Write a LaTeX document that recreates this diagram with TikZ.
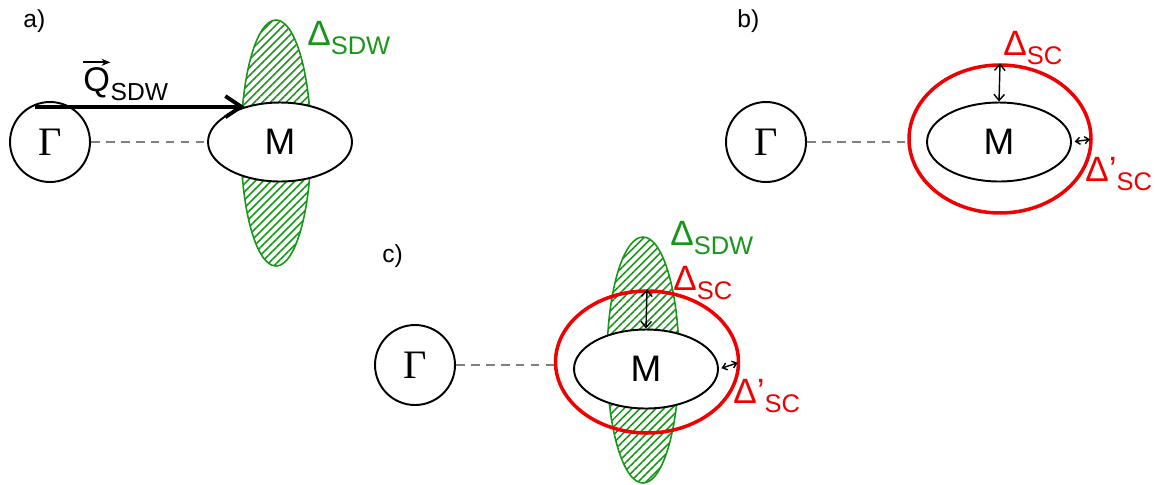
\documentclass[tikz,border=0pt]{standalone}
\usepackage{fontspec}
\setmainfont{Liberation Sans}
\newfontfamily\gammafont{Liberation Serif}
\usetikzlibrary{shapes.geometric,arrows.meta,patterns.meta}
\definecolor{sdwgreen}{RGB}{25,150,25}
\definecolor{scred}{RGB}{240,0,0}
\newcommand{\bigfont}{\fontsize{20}{22}\selectfont}
\newcommand{\subfont}{\fontsize{14.5}{17}\selectfont}
\newcommand{\gaplbl}[2]{{\bigfont #1}\raisebox{-5.5pt}{\subfont #2}}
\tikzset{
  kpoint/.style={circle, draw, line width=1.1pt, minimum size=1.6cm, inner sep=0pt, font=\fontsize{23}{25}\gammafont},
  mpocket/.style={ellipse, draw, fill=white, line width=1.1pt, minimum width=2.88cm, minimum height=1.58cm, inner sep=0pt, font=\fontsize{21}{23}\selectfont},
  scgap/.style={ellipse, draw=scred, line width=2pt, minimum width=3.64cm, inner sep=0pt},
  sdwgap/.style={draw=sdwgreen, line width=0.9pt, pattern={Lines[angle=45,distance=3.2pt,line width=0.9pt]}, pattern color=sdwgreen},
  kpath/.style={dashed, dash pattern=on 5pt off 3.5pt, gray, line width=0.9pt},
  gaparrow/.style={{Straight Barb[length=3.5pt,width=6pt]}-{Straight Barb[length=3.5pt,width=6pt]}, line width=0.8pt},
  tinyarrow/.style={{Straight Barb[length=2.5pt,width=4pt]}-{Straight Barb[length=2.5pt,width=4pt]}, line width=0.8pt},
  lbl/.style={anchor=base west, inner sep=0pt},
  panel/.style={anchor=base west, inner sep=0pt, font=\fontsize{14}{16}\selectfont}
}
\begin{document}
\begin{tikzpicture}[x=0.02cm, y=-0.02cm]
\useasboundingbox (0,0) rectangle (1155,484);
% a)
\node at (23,27) [panel] {a)};
\draw[sdwgap] (276,143) ellipse [x radius=35, y radius=123];
\node[kpoint] (Ga) at (50,142) {Γ};
\node[mpocket] (Ma) at (280,142) {M};
\draw[kpath] (Ga) -- (Ma);
\coordinate (qa) at (35,107);
\draw[-{Straight Barb[length=9pt,width=12pt]}, line width=2.2pt] (qa |- Ma.135) -- (Ma.135);
\node (qsym) at (83,91) [lbl, font=\fontsize{19.5}{21}\selectfont] {Q};
\node at (qsym.base east) [lbl, yshift=-5.5pt, font=\fontsize{14}{16}\selectfont] {SDW};
\draw[-{Stealth[length=5pt,width=4pt]}, line width=1pt] ([yshift=2.5pt]qsym.north west) -- ([yshift=2.5pt]qsym.north east);
\node[sdwgreen] at (307,45) [lbl] {\gaplbl{Δ}{SDW}};
% b)
\node at (737,27) [panel] {b)};
\node[kpoint] (Gb) at (766,142) {Γ};
\node[scgap, minimum height=2.96cm] (SCb) at (1000,139) {};
\node[mpocket] (Mb) at (999,142) {M};
\draw[kpath] (Gb) -- (Gb -| SCb.west);
\draw[gaparrow] (SCb.north) -- (Mb.north);
\draw[tinyarrow, shorten <=1.5pt, shorten >=1.5pt] (Mb.east) -- (SCb.east);
\node[scred] at (1003,55) [lbl] {\gaplbl{Δ}{SC}};
\node[scred] at (1085,181) [lbl] {\gaplbl{Δ’}{SC}};
% c)
\node at (382,262) [panel] {c)};
\draw[sdwgap] (643,360) ellipse [x radius=36, y radius=123];
\node[kpoint] (Gc) at (415,365) {Γ};
\node[scgap, minimum height=2.84cm, minimum width=3.66cm] (SCc) at (647,362) {};
\node[mpocket] (Mc) at (646,369) {M};
\draw[kpath] (Gc) -- (Gc -| SCc.west);
\draw[gaparrow] (SCc.north) -- (Mc.north);
\draw[tinyarrow, shorten <=1.5pt, shorten >=1.5pt] (Mc.east) -- (SCc.east);
\node[sdwgreen] at (670,245) [lbl] {\gaplbl{Δ}{SDW}};
\node[scred] at (673,290) [lbl] {\gaplbl{Δ}{SC}};
\node[scred] at (733,403) [lbl] {\gaplbl{Δ’}{SC}};
\end{tikzpicture}
\end{document}
